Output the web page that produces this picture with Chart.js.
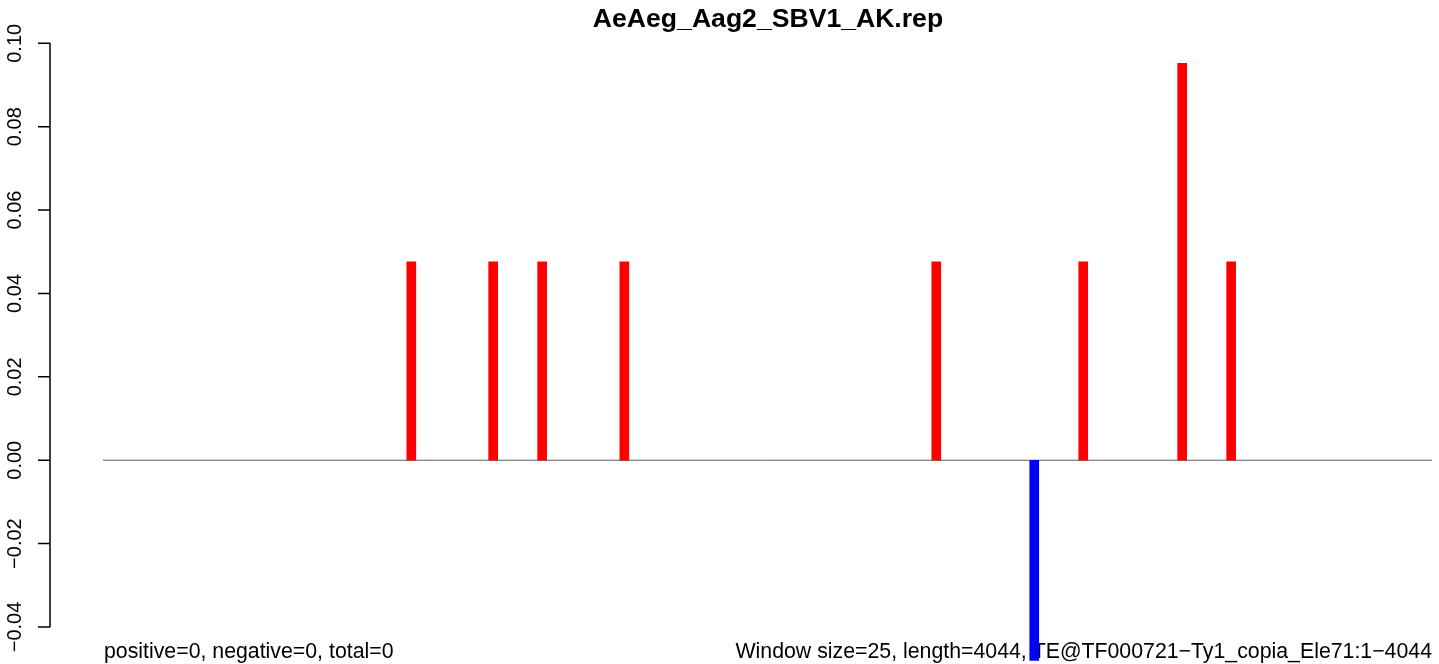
<!DOCTYPE html>
<html>
<head>
<meta charset="utf-8">
<script src="https://cdn.jsdelivr.net/npm/chart.js@4"></script>
<style>
    html, body { margin: 0; padding: 0; background: #fff; }
    #wrap { width: 1439px; height: 664px; position: relative; }
</style>
</head>
<body>
<div id="wrap"><canvas id="plot"></canvas></div>
<script>
// window positions (bp) and scores
const positions = [939, 1188, 1337, 1587, 2536, 2834, 2983, 3284, 3433];
const scores = [0.0476, 0.0476, 0.0476, 0.0476, 0.0476, -0.048, 0.0476, 0.0952, 0.0476];
const yTicks = [-0.04, -0.02, 0, 0.02, 0.04, 0.06, 0.08, 0.10];
const yTickLabels = ['\u22120.04', '\u22120.02', '0.00', '0.02', '0.04', '0.06', '0.08', '0.10'];
const seqRange = [1, 4044];

const titleText = 'AeAeg_Aag2_SBV1_AK.rep';
const leftNote = 'positive=0, negative=0, total=0';
const rightNote = 'Window size=25, length=4044, TE@TF000721\u2212Ty1_copia_Ele71:1\u22124044';

const FONT = '"Liberation Sans", Arial, Helvetica, sans-serif';

// R style decorations: title, left axis, footer notes
const rDecor = {
    id: 'rDecor',
    beforeDatasetsDraw(chart) {
        const ctx = chart.ctx;
        const y = chart.scales.y;
        ctx.save();
        ctx.fillStyle = '#000';

        ctx.font = 'bold 26.6px ' + FONT;
        ctx.textAlign = 'center';
        ctx.textBaseline = 'alphabetic';
        ctx.fillText(titleText, 768, 27);

        ctx.font = '21.3px ' + FONT;
        ctx.textAlign = 'left';
        ctx.fillText(leftNote, 104, 658);
        ctx.textAlign = 'right';
        ctx.fillText(rightNote, 1432, 658);

        // axis
        const top = y.getPixelForValue(yTicks[yTicks.length - 1]);
        const bot = y.getPixelForValue(yTicks[0]);
        ctx.strokeStyle = '#000';
        ctx.lineWidth = 1.5;
        ctx.beginPath();
        ctx.moveTo(50, top);
        ctx.lineTo(50, bot);
        yTicks.forEach(v => {
            const py = y.getPixelForValue(v);
            ctx.moveTo(38, py);
            ctx.lineTo(50.5, py);
        });
        ctx.stroke();

        ctx.font = '20px ' + FONT;
        ctx.textAlign = 'center';
        ctx.textBaseline = 'middle';
        yTicks.forEach((v, i) => {
            const py = y.getPixelForValue(v);
            ctx.save();
            ctx.translate(15, py);
            ctx.rotate(-Math.PI / 2);
            ctx.fillText(yTickLabels[i], 0, 0);
            ctx.restore();
        });
        ctx.restore();
    }
};

new Chart(document.getElementById('plot'), {
    data: {
        datasets: [
            {
                type: 'line',
                data: seqRange.map(x => ({ x: x, y: 0 })),
                borderColor: '#5a5a5a',
                borderWidth: 1,
                pointRadius: 0,
                order: 2
            },
            {
                type: 'bar',
                data: positions.map((x, i) => ({ x: x, y: scores[i] })),
                backgroundColor: scores.map(v => v >= 0 ? '#ff0000' : '#0000ff'),
                barThickness: 9,
                borderWidth: 0,
                clip: false,
                order: 1
            }
        ]
    },
    options: {
        responsive: true,
        maintainAspectRatio: false,
        animation: false,
        layout: { padding: 0 },
        plugins: {
            legend: { display: false },
            title: { display: false },
            tooltip: { enabled: false }
        },
        scales: {
            x: { type: 'linear', min: -312.3, max: 4065.3, display: false, offset: false },
            y: { type: 'linear', min: -0.048874, max: 0.110386, display: false }
        }
    },
    plugins: [rDecor]
});
</script>
</body>
</html>
